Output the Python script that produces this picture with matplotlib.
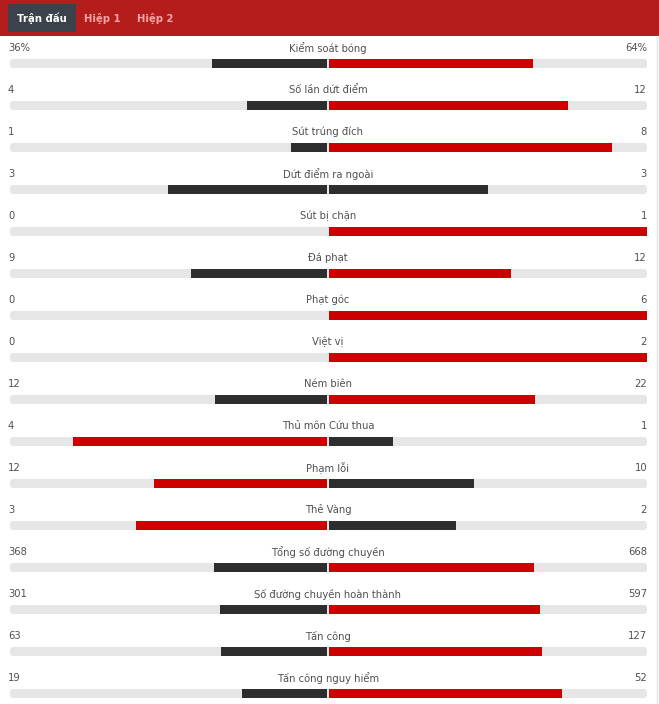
import matplotlib.pyplot as plt
from matplotlib.patches import FancyBboxPatch, Rectangle

# match stats (home = left, away = right)
labels = [
    "Kiểm soát bóng", "Số lần dứt điểm", "Sút trúng đích", "Dứt điểm ra ngoài",
    "Sút bị chặn", "Đá phạt", "Phạt góc", "Việt vị", "Ném biên",
    "Thủ môn Cứu thua", "Phạm lỗi", "Thẻ Vàng", "Tổng số đường chuyền",
    "Số đường chuyền hoàn thành", "Tấn công", "Tấn công nguy hiểm",
]
home = [36, 4, 1, 3, 0, 9, 0, 0, 12, 4, 12, 3, 368, 301, 63, 19]
away = [64, 12, 8, 3, 1, 12, 6, 2, 22, 1, 10, 2, 668, 597, 127, 52]
suffix = ["%"] + [""] * 15
tabs = ["Trận đấu", "Hiệp 1", "Hiệp 2"]

W, H = 659, 704
RED, DARK, GREY = "#cc0000", "#2d2d2d", "#e6e6e6"
TXT = "#505050"
FS = 7.2

fig = plt.figure(figsize=(W / 100, H / 100), dpi=100)
ax = fig.add_axes([0, 0, 1, 1])
ax.set_xlim(0, W)
ax.set_ylim(H, 0)
ax.axis("off")

# header
ax.add_patch(Rectangle((0, 0), W, 36, color="#b51c1c", lw=0))
ax.add_patch(Rectangle((8, 4), 68, 28, color="#3b424b", lw=0))
ax.text(42, 18.5, tabs[0], color="white", fontsize=7.3, fontweight="bold",
        ha="center", va="center")
ax.text(102.5, 18.5, tabs[1], color="#f2a6a6", fontsize=7.3, fontweight="bold",
        ha="center", va="center")
ax.text(155.5, 18.5, tabs[2], color="#f2a6a6", fontsize=7.3, fontweight="bold",
        ha="center", va="center")

# right border
ax.plot([656.5, 656.5], [36, H], color="#e4e4e4", lw=1)

x0, x1, cx = 10, 647, 328
half = 318
for i, (lab, h, a, s) in enumerate(zip(labels, home, away, suffix)):
    ty = 48 + 42 * i
    by = 63.5 + 42 * i
    ax.text(8, ty, f"{h}{s}", color=TXT, fontsize=FS, ha="left", va="center")
    ax.text(cx, ty, lab, color=TXT, fontsize=FS, ha="center", va="center")
    ax.text(647, ty, f"{a}{s}", color=TXT, fontsize=FS, ha="right", va="center")

    ax.add_patch(FancyBboxPatch((x0, by - 4.5), x1 - x0, 9,
                                boxstyle="round,pad=0,rounding_size=3",
                                fc=GREY, ec="none"))
    tot = h + a
    hc = RED if h > a else DARK
    ac = RED if a > h else DARK
    if h:
        ax.barh(by, -h / tot * (half - 1), left=cx - 1.5, height=9,
                color=hc, lw=0)
    if a:
        ax.barh(by, a / tot * half, left=cx + 1, height=9, color=ac, lw=0)

fig.savefig("out.png", dpi=100)
